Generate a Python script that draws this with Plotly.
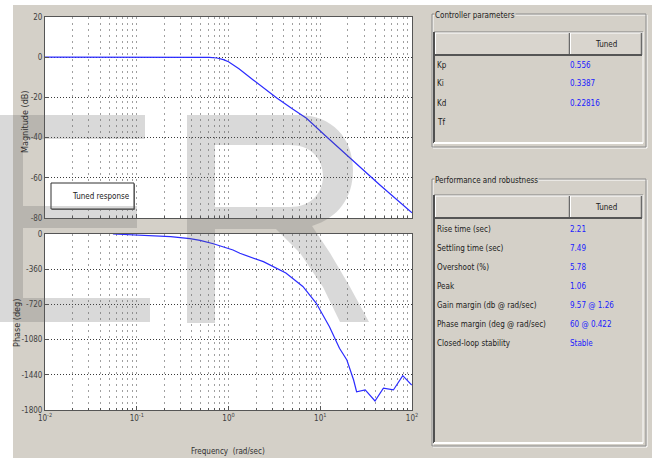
import plotly.graph_objects as go

W, H = 655, 458

# ---------------- data ----------------
mag_freq = [0.01, 0.1, 0.3, 0.49, 0.62, 0.75, 0.88, 1.0, 1.3, 1.86, 2.5, 3.39, 5.0, 7.08, 11.7, 20.4, 44.7, 100]
mag_db = [0, 0, 0, 0, -0.1, -0.4, -1.2, -2.3, -5.8, -11.3, -15.8, -20.4, -25.8, -30.4, -39.6, -49.5, -63.6, -77.4]

ph_freq = [0.055, 0.139, 0.234, 0.38, 0.49, 0.684, 1.12, 1.33, 2.40, 4.22, 6.46, 9.02, 12.6, 16.2,
           19.5, 23.1, 24.9, 30.9, 39.5, 48.8, 62.7, 79.3, 99.3]
ph_deg = [0, -15, -27, -47, -66, -100, -164, -197, -283, -399, -536, -706, -948, -1169,
          -1289, -1493, -1613, -1595, -1708, -1576, -1595, -1449, -1544]

decades = [0.01, 0.1, 1, 10, 100]
decade_labels = ["10<sup>-2</sup>", "10<sup>-1</sup>", "10<sup>0</sup>", "10<sup>1</sup>", "10<sup>2</sup>"]
minor_vals = [m * d for d in [0.01, 0.1, 1, 10] for m in range(2, 10)]

mag_ticks = [20, 0, -20, -40, -60, -80]
mag_tick_labels = ["20", "0", "-20", "-40", "-60", "-80"]
ph_ticks = [0, -360, -720, -1080, -1440, -1800]
ph_tick_labels = ["0", "-360", "-720", "-1080", "-1440", "-1800"]

ctrl_names = ["Kp", "Ki", "Kd", "Tf"]
ctrl_values = ["0.556", "0.3387", "0.22816", ""]
perf_names = ["Rise time (sec)", "Settling time (sec)", "Overshoot (%)", "Peak",
              "Gain margin (db @ rad/sec)", "Phase margin (deg @ rad/sec)", "Closed-loop stability"]
perf_values = ["2.21", "7.49", "5.78", "1.06", "9.57 @ 1.26", "60 @ 0.422", "Stable"]

# ---------------- helpers ----------------
PANEL = "#d4d0c8"
FONT = "Liberation Sans Narrow, Arial Narrow, DejaVu Sans Condensed, sans-serif"
FS = 8


def px(x):
    return x / W


def py(y):
    return 1 - y / H


shapes = []
annotations = []


def rect(x0, y0, x1, y1, fill=None, line=None, lw=1, layer="above"):
    shapes.append(dict(type="rect", xref="paper", yref="paper",
                       x0=px(x0), x1=px(x1), y0=py(y1), y1=py(y0),
                       fillcolor=fill if fill else "rgba(0,0,0,0)",
                       line=dict(color=line if line else "rgba(0,0,0,0)", width=lw if line else 0),
                       layer=layer))


def hline(x0, x1, y, color, lw=1, layer="above"):
    shapes.append(dict(type="line", xref="paper", yref="paper",
                       x0=px(x0), x1=px(x1), y0=py(y), y1=py(y),
                       line=dict(color=color, width=lw), layer=layer))


def vline(x, y0, y1, color, lw=1, layer="above"):
    shapes.append(dict(type="line", xref="paper", yref="paper",
                       x0=px(x), x1=px(x), y0=py(y0), y1=py(y1),
                       line=dict(color=color, width=lw), layer=layer))


def text(x, y, s, size=FS, color="#202020", xanchor="left", angle=0, bg=None, family=FONT):
    a = dict(xref="paper", yref="paper", x=px(x), y=py(y), text=s, showarrow=False,
             xanchor=xanchor, yanchor="middle", textangle=angle,
             font=dict(size=size, color=color, family=family), borderpad=0)
    if bg:
        a["bgcolor"] = bg
    annotations.append(a)


def path_from(cmds):
    out = []
    for c in cmds:
        if c[0] == "Z":
            out.append("Z")
        else:
            op = c[0]
            pts = c[1:]
            out.append(op + " " + " ".join("%.5f,%.5f" % (px(pts[i]), py(pts[i + 1]))
                                           for i in range(0, len(pts), 2)))
    return " ".join(out)


# ---------------- figure ----------------
fig = go.Figure()
fig.add_trace(go.Scatter(x=mag_freq, y=mag_db, mode="lines", xaxis="x", yaxis="y",
                         line=dict(color="#2b2bff", width=1.2), showlegend=False, hoverinfo="skip"))
fig.add_trace(go.Scatter(x=ph_freq, y=ph_deg, mode="lines", xaxis="x2", yaxis="y2",
                         line=dict(color="#2b2bff", width=1.2), showlegend=False, hoverinfo="skip"))

xgrid = dict(color="#a0a0a0", dash="2px,4px")
ygrid = dict(color="#3a3a3a", dash="1px,2px")
tickfont = dict(size=FS, color="#404040", family=FONT)

common_x = dict(type="log", range=[-2, 2], showline=True, mirror=True, linecolor="#555555", linewidth=1,
                tickmode="array", tickvals=decades, ticks="inside", ticklen=4, tickcolor="#555555",
                showgrid=True, gridcolor=xgrid["color"], griddash=xgrid["dash"], gridwidth=1,
                minor=dict(tickmode="array", tickvals=minor_vals, ticks="inside", ticklen=2,
                           tickcolor="#555555", showgrid=True, gridcolor=xgrid["color"],
                           griddash=xgrid["dash"], gridwidth=1),
                zeroline=False, automargin=False, tickfont=tickfont)

common_y = dict(tickmode="array", showline=True, mirror=True, linecolor="#555555", ticks="inside",
                ticklen=4, tickcolor="#555555", showgrid=True, gridcolor=ygrid["color"],
                griddash=ygrid["dash"], zeroline=False, automargin=False, tickfont=tickfont)

fig.update_layout(
    width=W, height=H, margin=dict(l=0, r=0, t=0, b=0, pad=0, autoexpand=False),
    paper_bgcolor=PANEL, plot_bgcolor="white",
    xaxis=dict(common_x, domain=[px(45), px(412)], anchor="y", showticklabels=False),
    yaxis=dict(common_y, domain=[py(218), py(17)], range=[-80, 20], anchor="x",
               tickvals=mag_ticks, ticktext=mag_tick_labels),
    xaxis2=dict(common_x, domain=[px(45), px(412)], anchor="y2",
                ticktext=decade_labels, showticklabels=True),
    yaxis2=dict(common_y, domain=[py(410), py(234)], range=[-1800, 0], anchor="x2",
                tickvals=ph_ticks, ticktext=ph_tick_labels),
)

# white page margins around the gray panel
rect(0, 0, W, 5, fill="white", layer="below")
rect(0, 0, 13, H, fill="white", layer="below")
rect(652, 0, W, H, fill="white", layer="below")

# axis titles
text(25, 122, "Magnitude (dB)", size=9, color="#303030", xanchor="center", angle=-90)
text(17, 323, "Phase (deg)", size=9, color="#303030", xanchor="center", angle=-90)
text(228, 451, "Frequency  (rad/sec)", size=FS, color="#303030", xanchor="center")

# legend box inside magnitude plot
rect(52, 184, 135, 210, fill="#8a8a8a")
rect(51, 183, 134, 209, fill="white", line="#303030", lw=1)
text(131, 196, "Tuned response", size=FS, color="#202020", xanchor="right")


# group boxes (etched)
def group(x0, y0, x1, y1, title):
    rect(x0 + 1, y0 + 1, x1 + 1, y1 + 1, line="white", lw=1)
    rect(x0, y0, x1, y1, line="#8a8a8a", lw=1)
    text(x0 + 2, y0 + 1, title, size=FS, color="#202020", bg=PANEL)


def table(x0, y0, xm, x1, yh, y1):
    # body (sunken)
    hline(x0, x1, y0, "#808080", 1)
    vline(x0, y0, y1, "#505050", 2)
    hline(x0, x1, y1, "white", 2)
    vline(x1, y0, y1, "white", 1)
    # header cells (raised)
    for a, b in [(x0 + 1, xm), (xm, x1 - 1)]:
        rect(a, y0 + 1, b, yh, fill="#d9d5ce")
        hline(a, b, y0 + 1, "white", 1)
        vline(a + 0.5, y0 + 1, yh, "white", 1)
        vline(b - 0.5, y0 + 1, yh, "#6a6a6a", 1.5)
    hline(x0 + 1, x1 - 1, yh, "#555555", 2)


group(432, 14, 646, 147, "Controller parameters")
table(434, 32, 570, 643, 55, 143)
text(606, 44, "Tuned", size=FS, color="#202020", xanchor="center")
for i, (n, v) in enumerate(zip(ctrl_names, ctrl_values)):
    yy = 65 + i * 19
    text(436, yy, n, size=FS, color="#202020")
    if v:
        text(569, yy, v, size=FS, color="#2020ff")

group(432, 179, 646, 446, "Performance and robustness")
table(434, 195, 570, 643, 218, 443)
text(606, 207, "Tuned", size=FS, color="#202020", xanchor="center")
for i, (n, v) in enumerate(zip(perf_names, perf_values)):
    yy = 229 + i * 19.1
    text(436, yy, n, size=FS, color="#202020")
    text(569, yy, v, size=FS, color="#2020ff")

# watermark letters (semi-transparent gray, drawn on top)
WM = "rgba(95,95,95,0.24)"
e_path = path_from([
    ("M", -5, 115), ("L", 145, 115), ("L", 145, 139), ("L", 23, 139), ("L", 23, 206),
    ("L", 137, 206), ("L", 137, 228), ("L", 23, 228), ("L", 23, 298), ("L", 150, 298),
    ("L", 150, 322), ("L", -5, 322), ("Z",)])
shapes.append(dict(type="path", xref="paper", yref="paper", path=e_path,
                   fillcolor=WM, line=dict(width=0), layer="above"))

r_path = path_from([
    ("M", 187, 115), ("L", 298, 115),
    ("C", 332, 115, 353, 138, 353, 170),
    ("C", 353, 198, 338, 218, 312, 226),
    ("L", 330, 253), ("L", 350, 287), ("L", 369, 322), ("L", 340, 322),
    ("L", 323, 287), ("L", 300, 253), ("L", 276, 229), ("L", 215, 229),
    ("L", 215, 323), ("L", 187, 323), ("Z",),
    ("M", 215, 145), ("L", 215, 207), ("L", 290, 207),
    ("C", 310, 207, 323, 194, 323, 176),
    ("C", 323, 158, 310, 145, 290, 145), ("Z",)])
shapes.append(dict(type="path", xref="paper", yref="paper", path=r_path,
                   fillcolor=WM, line=dict(width=0), layer="above"))

fig.update_layout(shapes=shapes, annotations=annotations)
fig.write_html("out.html", config={"displayModeBar": False},
               post_script="document.body.style.margin='0';document.body.style.overflow='hidden';")
